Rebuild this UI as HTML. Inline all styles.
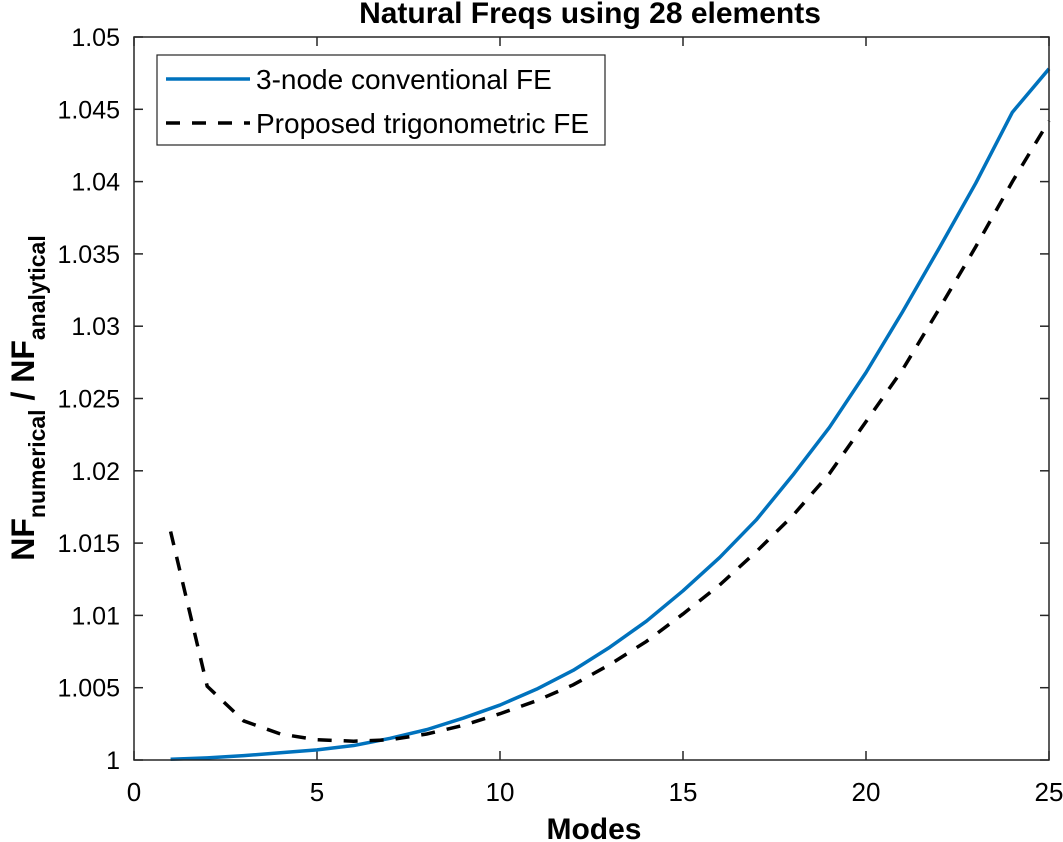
<!DOCTYPE html>
<html><head><meta charset="utf-8"><style>
html,body{margin:0;padding:0;background:#fff;}
svg{display:block;font-family:"Liberation Sans",Arial,sans-serif;}
</style></head><body>
<svg id="chart" width="1063" height="842" viewBox="0 0 1063 842">
<text x="590" y="23" text-anchor="middle" font-size="30" font-weight="bold">Natural Freqs using 28 elements</text>
<g id="ticks"></g>
<g id="series"></g>
<rect x="134" y="37" width="915" height="723" fill="none" stroke="#262626" stroke-width="1.5"/>
<text x="594" y="839" text-anchor="middle" font-size="30" font-weight="bold">Modes</text>
<text transform="translate(34,398) rotate(-90)" text-anchor="middle" font-size="32" font-weight="bold">NF<tspan font-size="23" dy="11">numerical</tspan><tspan dy="-11"> / NF</tspan><tspan font-size="23" dy="11">analytical</tspan></text>
<g>
<rect x="157" y="55" width="448" height="90" fill="#fff" stroke="#262626" stroke-width="1.2"/>
<line x1="166" y1="79" x2="250" y2="79" stroke="#0072BD" stroke-width="3.5"/>
<text x="256" y="89" font-size="28">3-node conventional FE</text>
<line x1="166" y1="123" x2="250" y2="123" stroke="#000" stroke-width="3.5" stroke-dasharray="14,12"/>
<text x="256" y="133" font-size="28">Proposed trigonometric FE</text>
</g>
</svg>
<script>
const modes = [1,2,3,4,5,6,7,8,9,10,11,12,13,14,15,16,17,18,19,20,21,22,23,24,25];
const conventional = [1.00005,1.00015,1.0003,1.0005,1.0007,1.0010,1.0015,1.0021,1.0029,1.0038,1.0049,1.0062,1.0078,1.0096,1.0117,1.0140,1.0166,1.0197,1.0230,1.0268,1.0310,1.0354,1.0399,1.0448,1.0478];
const trigonometric = [1.0158,1.0051,1.0027,1.0018,1.0014,1.0013,1.0014,1.0018,1.0024,1.0032,1.0041,1.0052,1.0066,1.0082,1.0101,1.0121,1.0144,1.0169,1.0198,1.0234,1.0270,1.0312,1.0355,1.0400,1.0442];
const xTicks = [0,5,10,15,20,25];
const yTicks = [1,1.005,1.01,1.015,1.02,1.025,1.03,1.035,1.04,1.045,1.05];
const yTickLabels = ["1","1.005","1.01","1.015","1.02","1.025","1.03","1.035","1.04","1.045","1.05"];

const L=134,R=1049,T=37,B=760;
const xs=v=>L+(v-0)/(25-0)*(R-L);
const ys=v=>B-(v-1)/(1.05-1)*(B-T);
const NS="http://www.w3.org/2000/svg";
const tg=document.getElementById('ticks'), sg=document.getElementById('series');
function mk(tag,attrs,parent){const e=document.createElementNS(NS,tag);for(const k in attrs)e.setAttribute(k,attrs[k]);parent.appendChild(e);return e;}
xTicks.forEach(v=>{
  const x=xs(v);
  const t=mk('line',{x1:x,y1:B,x2:x,y2:B-9,stroke:'#262626','stroke-width':1.5},tg);
  
  
  const t2=mk('line',{x1:x,y1:T,x2:x,y2:T+9,stroke:'#262626','stroke-width':1.5},tg);
  
  
  const l=mk('text',{x:x,y:801,'text-anchor':'middle','font-size':26},tg);
  l.textContent=String(v);
  
  
});
yTicks.forEach((v,i)=>{
  const y=ys(v);
  const t=mk('line',{x1:L,y1:y,x2:L+9,y2:y,stroke:'#262626','stroke-width':1.5},tg);
  
  
  const t2=mk('line',{x1:R,y1:y,x2:R-9,y2:y,stroke:'#262626','stroke-width':1.5},tg);
  
  
  const l=mk('text',{x:L-14,y:y+9,'text-anchor':'end','font-size':25},tg);
  l.textContent=yTickLabels[i];
  
  
});
const p1=mk('polyline',{points:modes.map((m,i)=>xs(m)+','+ys(conventional[i])).join(' '),fill:'none',stroke:'#0072BD','stroke-width':3.5,'stroke-linejoin':'round'},sg);


const p2=mk('polyline',{points:modes.map((m,i)=>xs(m)+','+ys(trigonometric[i])).join(' '),fill:'none',stroke:'#000','stroke-width':3.5,'stroke-dasharray':'14,12'},sg);


</script>
</body></html>
